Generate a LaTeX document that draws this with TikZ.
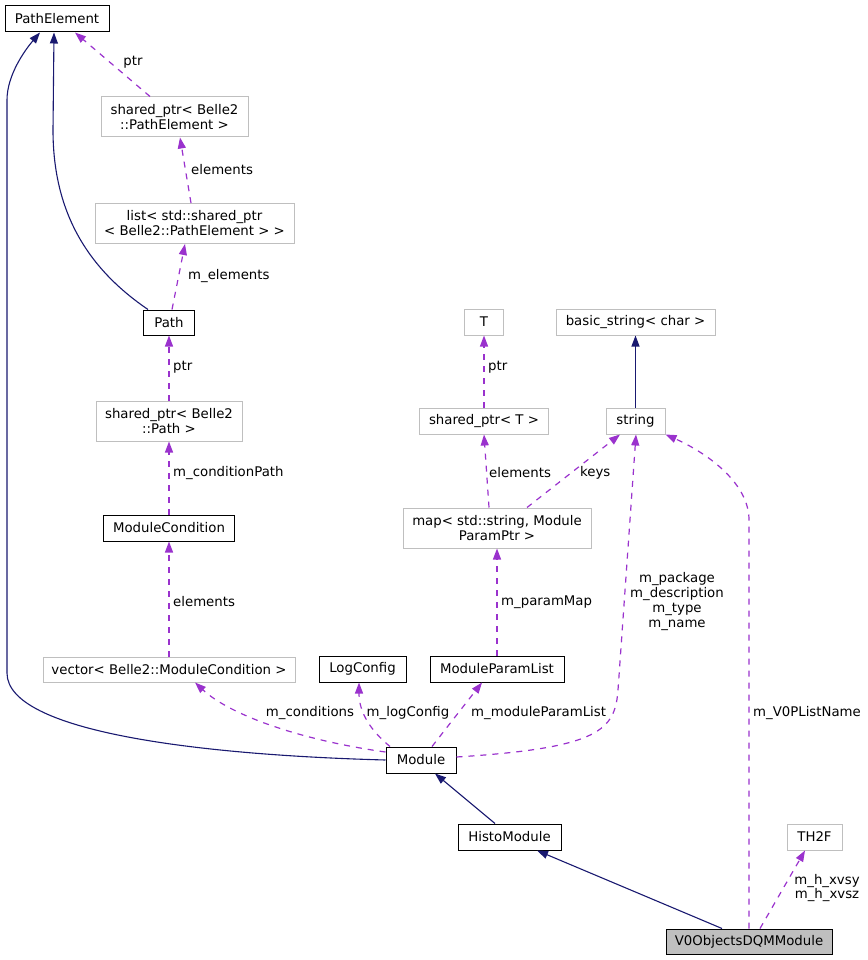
\documentclass[tikz,border=0pt]{standalone}
\usepackage{fontspec}
\setmainfont{DejaVu Sans}
\usetikzlibrary{arrows.meta,calc}
\definecolor{navyc}{HTML}{191970}
\definecolor{purc}{HTML}{9A32CD}
\definecolor{grayb}{HTML}{BFBFBF}
\definecolor{darkb}{HTML}{000000}
\tikzset{
  cls/.style={draw=darkb, line width=1pt, inner sep=0pt, align=center, font=\fontsize{13.3}{15}\selectfont},
  ext/.style={draw=grayb, line width=1pt, inner sep=0pt, align=center, font=\fontsize{13.3}{15}\selectfont},
  lbl/.style={inner sep=0pt, align=center, font=\fontsize{13.3}{14.7}\selectfont},
  inh/.style={draw=navyc, line width=1.1pt, -{Triangle[length=11pt,width=8pt]}},
  use/.style={draw=purc, line width=1.2pt, dash pattern=on 6pt off 6pt, -{Triangle[length=11pt,width=8pt]}},
}
\begin{document}
\begin{tikzpicture}[x=1pt,y=-1pt]
\useasboundingbox (0,0) rectangle (867,960);
% nodes
\node[cls, minimum width=104pt, minimum height=26pt] (PathElement) at (57,19) {PathElement};
\node[ext, minimum width=147pt, minimum height=40pt] (spPE) at (174.5,117) {shared\_ptr< Belle2\\::PathElement >};
\node[ext, minimum width=199pt, minimum height=40pt] (list) at (194.5,223.5) {list< std::shared\_ptr\\< Belle2::PathElement > >};
\node[cls, minimum width=51pt, minimum height=25pt] (Path) at (169,322.5) {Path};
\node[ext, minimum width=146pt, minimum height=40pt] (spPath) at (169,421) {shared\_ptr< Belle2\\::Path >};
\node[cls, minimum width=131pt, minimum height=26pt] (ModuleCondition) at (169,528) {ModuleCondition};
\node[ext, minimum width=252pt, minimum height=25pt] (vector) at (169,669.5) {vector< Belle2::ModuleCondition >};
\node[cls, minimum width=87pt, minimum height=26pt] (LogConfig) at (362.5,669) {LogConfig};
\node[cls, minimum width=134pt, minimum height=26pt] (ModuleParamList) at (497,669) {ModuleParamList};
\node[cls, minimum width=70pt, minimum height=26pt] (Module) at (421,760) {Module};
\node[cls, minimum width=103pt, minimum height=26pt] (HistoModule) at (509.5,837) {HistoModule};
\node[cls, fill=grayb, minimum width=166pt, minimum height=25pt] (V0) at (749,941.5) {V0ObjectsDQMModule};
\node[ext, minimum width=55pt, minimum height=26pt] (TH2F) at (814.5,837) {TH2F};
\node[ext, minimum width=39pt, minimum height=26pt] (T) at (484,322) {T};
\node[ext, minimum width=159pt, minimum height=26pt] (basic) at (635.5,322) {basic\_string< char >};
\node[ext, minimum width=129pt, minimum height=26pt] (spT) at (484,421) {shared\_ptr< T >};
\node[ext, minimum width=59pt, minimum height=26pt] (string) at (635.5,421) {string};
\node[ext, minimum width=188pt, minimum height=40pt] (map) at (497,528) {map< std::string, Module\\ParamPtr >};
% inheritance edges
\draw[inh] (Module.west) .. controls (200,755) and (7,732) .. (7,673) -- (7,100) .. controls (7,75) and (25,50) .. ($(PathElement.south)+(-17,0)$);
\draw[inh] ($(Path.north)+(-21,0)$) .. controls (90,270) and (53,215) .. (53,130) -- ($(PathElement.south)+(-3,0)$);
\draw[inh] (string.north) -- (basic.south);
\draw[inh] ($(HistoModule.north)+(-14.5,0)$) -- ($(Module.south)+(14,0)$);
\draw[inh] ($(V0.north)+(-27,0)$) -- ($(HistoModule.south)+(27.5,0)$);
% usage edges
\draw[use] ($(spPE.north)+(-24.5,0)$) -- ($(PathElement.south)+(18,0)$);
\draw[use] ($(list.north)+(-3.5,0)$) -- ($(spPE.south)+(5.5,0)$);
\draw[use] ($(Path.north)+(3,0)$) -- ($(list.south)+(-9.5,0)$);
\draw[use] (spPath.north) -- (Path.south);
\draw[use] (ModuleCondition.north) -- (spPath.south);
\draw[use] (vector.north) -- (ModuleCondition.south);
\draw[use] ($(Module.west)+(0,-8)$) .. controls (300,740) and (230,715) .. ($(vector.south)+(26,0)$);
\draw[use] ($(Module.north)+(-31,0)$) .. controls (370,730) and (359,712) .. ($(LogConfig.south)+(-3.5,0)$);
\draw[use] ($(Module.north)+(11,0)$) -- ($(ModuleParamList.south)+(-15,0)$);
\draw[use] ($(Module.east)+(0,-3)$) .. controls (600,748) and (615,730) .. (618,690) -- ($(string.south)+(0.5,0)$);
\draw[use] (ModuleParamList.north) -- (map.south);
\draw[use] ($(map.north)+(-8,0)$) -- (spT.south);
\draw[use] ($(map.north)+(30,0)$) -- ($(string.south)+(-15.5,0)$);
\draw[use] (spT.north) -- (T.south);
\draw[use] (V0.north) -- (749,520) .. controls (749,482) and (705,452) .. (string.south east);
\draw[use] ($(V0.north)+(11,0)$) -- ($(TH2F.south)+(-9.5,0)$);
% labels
\node[lbl] (l1) at (133,62) {ptr};
\node[lbl, anchor=west] (l2) at (191,170) {elements};
\node[lbl, anchor=west] (l3) at (188,276) {m\_elements};
\node[lbl, anchor=west] (l4) at (173,367) {ptr};
\node[lbl, anchor=west] (l5) at (173,473) {m\_conditionPath};
\node[lbl, anchor=west] (l6) at (173,602) {elements};
\node[lbl] (l7) at (310,713) {m\_conditions};
\node[lbl] (l8) at (408,713) {m\_logConfig};
\node[lbl, anchor=west] (l9) at (471,713) {m\_moduleParamList};
\node[lbl, anchor=west] (l10) at (501,602) {m\_paramMap};
\node[lbl, anchor=west] (l11) at (489,473) {elements};
\node[lbl, anchor=west] (l12) at (580,473) {keys};
\node[lbl, anchor=west] (l13) at (488,367) {ptr};
\node[lbl] (l14) at (677,601.5) {m\_package\\m\_description\\m\_type\\m\_name};
\node[lbl, anchor=west] (l15) at (753,713) {m\_V0PListName};
\node[lbl] (l16) at (827,888) {m\_h\_xvsy\\m\_h\_xvsz};
\end{tikzpicture}
\end{document}
